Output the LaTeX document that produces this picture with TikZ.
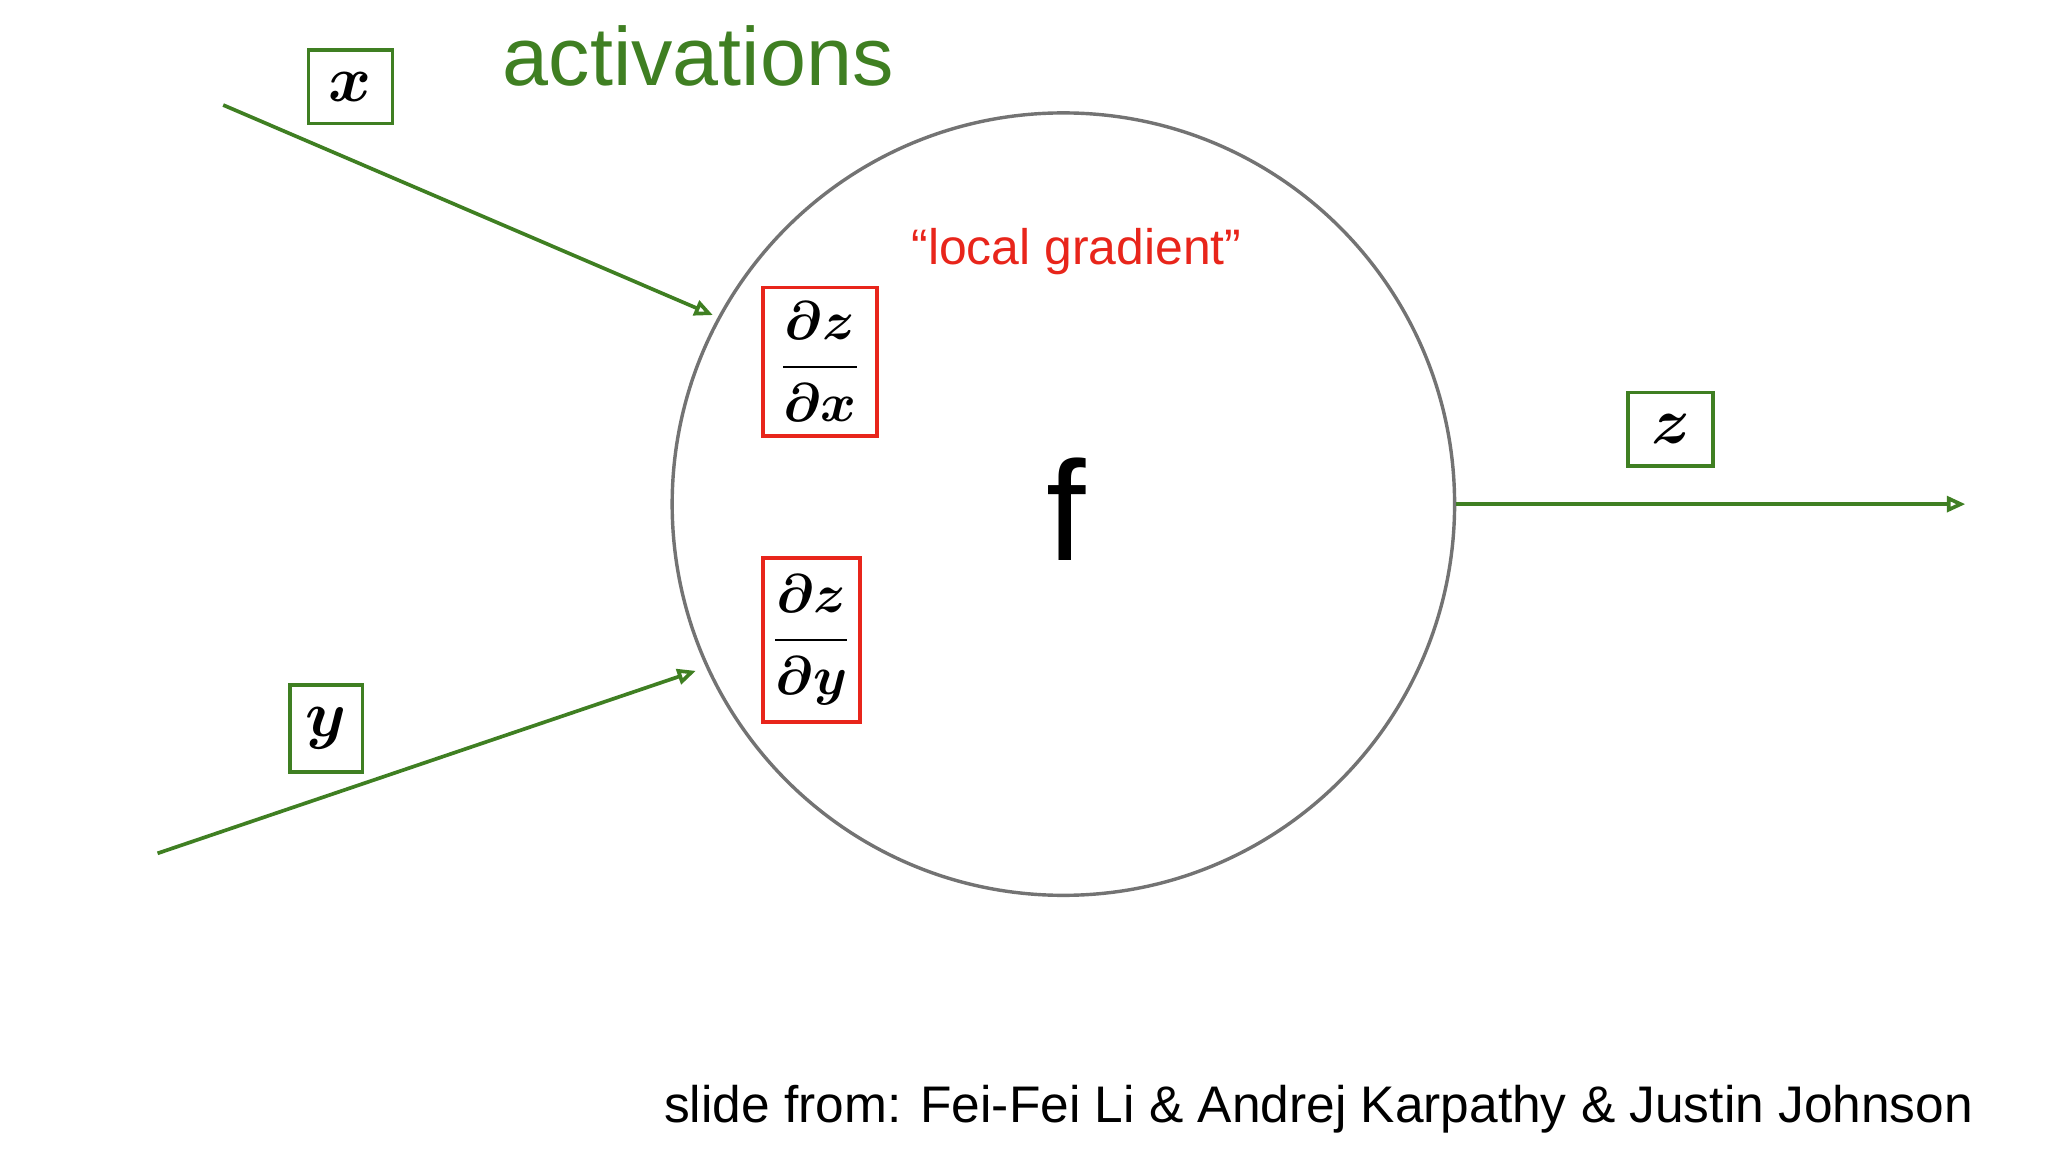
\documentclass[tikz,border=0pt]{standalone}
\usepackage{fontspec}
\setmainfont{Liberation Sans}
\usepackage{amsmath}
\usepackage{bm}
\usetikzlibrary{arrows.meta}
\definecolor{gr}{HTML}{3F7F22}
\definecolor{rd}{HTML}{E8251B}
\tikzset{
  conn/.style={gr, line width=1.4pt, -{Triangle[open, length=7pt, width=6pt]}},
  varbox/.style={draw=gr, line width=1.4pt, fill=white, inner sep=0pt, font=\fontsize{34}{40}\selectfont},
  gradbox/.style={draw=rd, line width=1.4pt, inner sep=0pt, font=\fontsize{22}{26}\selectfont},
}
\begin{document}
\begin{tikzpicture}[x=0.5pt,y=-0.5pt]
\useasboundingbox (0,0) rectangle (1560,877.5);
\node[circle, draw=black!55, line width=1.3pt, minimum size=298pt, inner sep=0pt] (f) at (810,384) {};
\node[font=\fontsize{54}{60}\selectfont] (flab) at (812,388) {f};
\node[gr, font=\fontsize{31.5}{36}\selectfont, anchor=base west] (act) at (376,65) {activations};
\node[rd, font=\fontsize{19}{22}\selectfont] (lg) at (820,192) {“local gradient”};
\node[gradbox, minimum width=43.5pt, minimum height=56.5pt] (gx) at (624.5,275.5) {$\displaystyle\bm{\frac{\partial z}{\partial x}}$};
\node[gradbox, minimum width=37pt, minimum height=62.5pt] (gy) at (618,487.5) {$\displaystyle\bm{\frac{\partial z}{\partial y}}$};
\coordinate (xs) at (170,80);
\coordinate (xe) at (543,240);
\coordinate (ys) at (120,650);
\coordinate (ye) at (530,511);
\coordinate (ze) at (1497,384);
\draw[conn] (xs) -- (xe);
\draw[conn] (ys) -- (ye);
\draw[conn] (f.east) -- (ze);
\node[varbox, minimum width=32pt, minimum height=28pt] (xb) at (267,66) {$\bm{x}$};
\node[varbox, minimum width=27.5pt, minimum height=33pt] (yb) at (248.5,555) {$\bm{y}$};
\node[varbox, minimum width=32.5pt, minimum height=28pt] (zb) at (1272.5,327) {$\bm{z}$};
\node[font=\fontsize{19.6}{22}\selectfont, anchor=base east] (cred) at (1510,855) {slide from: Fei-Fei Li \& Andrej Karpathy \& Justin Johnson};
\end{tikzpicture}
\end{document}
